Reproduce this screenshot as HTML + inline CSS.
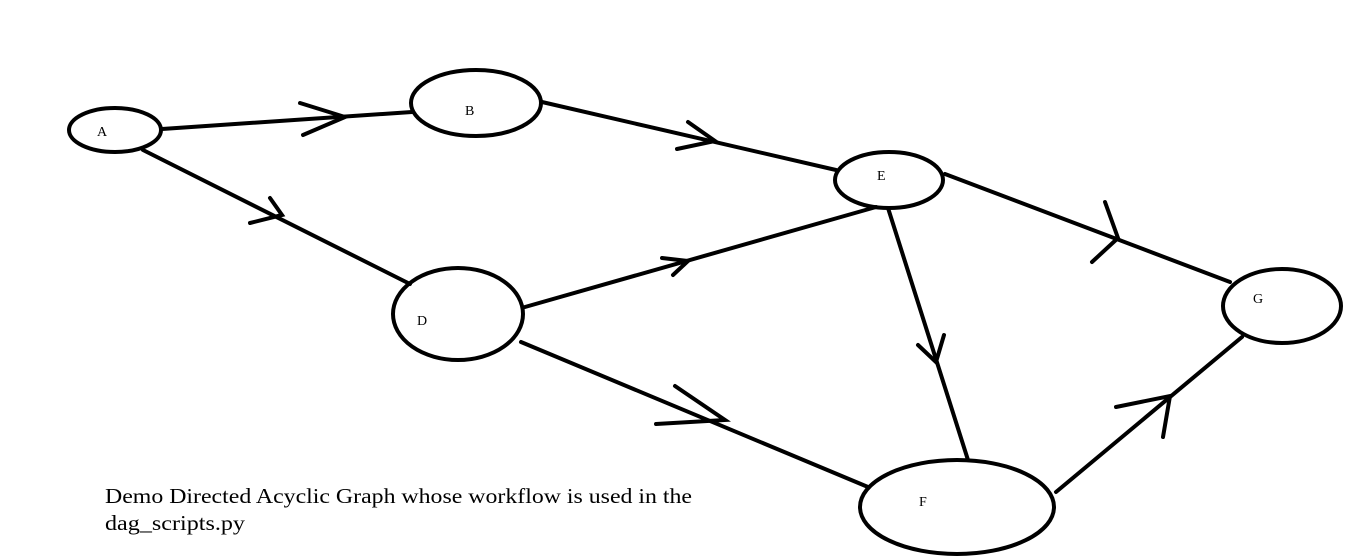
<!DOCTYPE html>
<html><head><meta charset="utf-8"><style>
html,body{margin:0;padding:0;background:#fff;}
svg{display:block;}
text{font-family:"Liberation Serif",serif;fill:#000;}
</style></head><body>
<svg width="1351" height="559" viewBox="0 0 1351 559" xmlns="http://www.w3.org/2000/svg">
<g fill="none" stroke="#000" stroke-width="4" stroke-linecap="round">
<ellipse cx="115" cy="130" rx="46" ry="22"/>
<ellipse cx="476" cy="103" rx="65" ry="33"/>
<ellipse cx="889" cy="180" rx="54" ry="28"/>
<ellipse cx="458" cy="314" rx="65" ry="46"/>
<ellipse cx="1282" cy="306" rx="59" ry="37"/>
<ellipse cx="957" cy="507" rx="97" ry="47"/>
<line x1="162" y1="129" x2="412" y2="112"/>
<polyline points="300,103 345,117 303,135"/>
<line x1="542" y1="102" x2="836" y2="170"/>
<polyline points="688,122 715,141 677,149"/>
<line x1="143" y1="150" x2="410" y2="284"/>
<polyline points="270,198 282,215 250,223"/>
<line x1="525" y1="307" x2="876" y2="207"/>
<polyline points="662,258 688,261 673,275"/>
<line x1="945" y1="174" x2="1230" y2="282"/>
<polyline points="1105,202 1118,238 1092,262"/>
<line x1="888" y1="208" x2="968" y2="460"/>
<polyline points="918,345 936,362 944,335"/>
<line x1="521" y1="342" x2="868" y2="487"/>
<polyline points="675,386 725,420 656,424"/>
<line x1="1056" y1="492" x2="1242" y2="337"/>
<polyline points="1116,407 1170,396 1163,437"/>
</g>
<g font-size="14">
<text x="97" y="136">A</text>
<text x="465" y="115">B</text>
<text x="877" y="180">E</text>
<text x="417" y="325">D</text>
<text x="1253" y="303">G</text>
<text x="919" y="506">F</text>
</g>
<text x="105" y="503" font-size="21" textLength="587" lengthAdjust="spacingAndGlyphs">Demo Directed Acyclic Graph whose workflow is used in the</text>
<text x="105" y="530" font-size="21" textLength="140" lengthAdjust="spacingAndGlyphs">dag_scripts.py</text>
</svg>
</body></html>
